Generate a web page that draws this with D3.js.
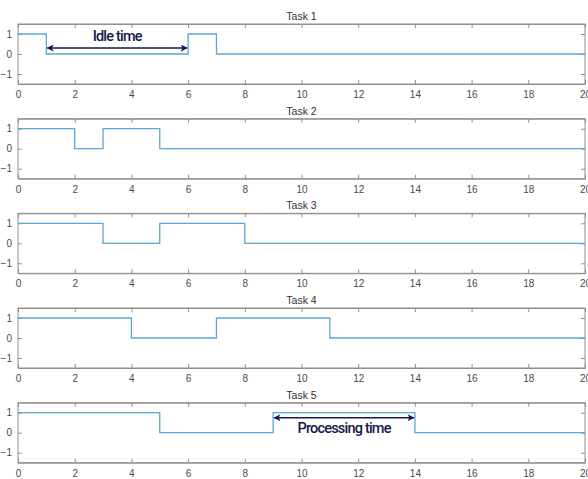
<!DOCTYPE html>
<html><head><meta charset="utf-8">
<script src="https://cdn.jsdelivr.net/npm/d3@7"></script>
<style>body{margin:0;background:#fff;} svg{display:block;}</style>
</head><body>
<script>
const taskNames = ["Task 1","Task 2","Task 3","Task 4","Task 5"];
const timeSteps = d3.range(0,21);
const task1 = [1,0,0,0,0,0,1,0,0,0,0,0,0,0,0,0,0,0,0,0,0];
const task2 = [1,1,0,1,1,0,0,0,0,0,0,0,0,0,0,0,0,0,0,0,0];
const task3 = [1,1,1,0,0,1,1,1,0,0,0,0,0,0,0,0,0,0,0,0,0];
const task4 = [1,1,1,1,0,0,0,1,1,1,1,0,0,0,0,0,0,0,0,0,0];
const task5 = [1,1,1,1,1,0,0,0,0,1,1,1,1,1,0,0,0,0,0,0,0];
const series = [task1,task2,task3,task4,task5];
const xTicks = [0,2,4,6,8,10,12,14,16,18,20];
const yTicks = [-1,0,1];
const annotations = [
  {panel:0, x0:1, x1:6, y:0.3, label:"Idle time", both:true, labelY:0.9},
  {panel:4, x0:9, x1:14, y:0.75, label:"Processing time", both:true, labelY:0.2}
];

const W=588,H=479;
const left=18,right=585,panelH=60,tops=[24,118.7,213.3,308,402.7];
const svg=d3.select("body").append("svg").attr("width",W).attr("height",H);
const defs=svg.append("defs");
defs.append("marker").attr("id","ah").attr("viewBox","0 0 10 10").attr("refX",9).attr("refY",5)
 .attr("markerWidth",7).attr("markerHeight",7).attr("markerUnits","userSpaceOnUse").attr("orient","auto-start-reverse")
 .append("path").attr("d","M0,0 L10,5 L0,10 L2.5,5 Z").attr("fill","#141a4a");

const x=d3.scaleLinear().domain([0,20]).range([left,right]);
const axisCol="#8f8f8f", txtCol="#4a4a4a";

series.forEach((vals,i)=>{
  const top=tops[i];
  const y=d3.scaleLinear().domain([-1.5,1.5]).range([top+panelH,top]);
  const g=svg.append("g");
  g.append("text").attr("x",(left+right)/2).attr("y",top-4).attr("text-anchor","middle")
   .attr("font-family","Liberation Sans, Arial, sans-serif").attr("font-size",10.5).attr("fill","#333").text(taskNames[i]);
  const bx=d3.axisBottom(x).tickValues(xTicks).tickSize(-4).tickPadding(7).tickFormat(d3.format("d"));
  const gb=g.append("g").attr("transform",`translate(0,${top+panelH})`).call(bx);
  const tx=d3.axisTop(x).tickValues(xTicks).tickSize(-4).tickFormat("");
  const gt=g.append("g").attr("transform",`translate(0,${top})`).call(tx);
  const ly=d3.axisLeft(y).tickValues(yTicks).tickSize(-4).tickPadding(6).tickFormat(d3.format("d"));
  const gl=g.append("g").attr("transform",`translate(${left},0)`).call(ly);
  const ry=d3.axisRight(y).tickValues(yTicks).tickSize(-4).tickFormat("");
  const gr=g.append("g").attr("transform",`translate(${right},0)`).call(ry);
  [gb,gt,gl,gr].forEach(a=>{
    a.selectAll(".domain").attr("stroke",axisCol);
    a.selectAll(".tick line").attr("stroke",axisCol);
    a.selectAll("text").attr("fill",txtCol).attr("font-size",10).attr("font-family","Liberation Sans, Arial, sans-serif");
  });
  gl.selectAll(".domain").remove(); gr.selectAll(".domain").remove();
  g.append("rect").attr("x",left).attr("y",top).attr("width",right-left).attr("height",panelH)
   .attr("fill","none").attr("stroke",axisCol);
  const line=d3.line().x((d,j)=>x(timeSteps[j])).y(d=>y(d)).curve(d3.curveStepAfter);
  g.append("path").datum(vals).attr("d",line).attr("fill","none").attr("stroke","#5aa6d8").attr("stroke-width",1.3);
  annotations.filter(a=>a.panel===i).forEach(a=>{
    g.append("line").attr("x1",x(a.x0)+1).attr("x2",x(a.x1)-1).attr("y1",y(a.y)).attr("y2",y(a.y))
     .attr("stroke","#141a4a").attr("stroke-width",1.6)
     .attr("marker-end","url(#ah)").attr("marker-start",a.both?"url(#ah)":null);
    g.append("text").attr("x",(x(a.x0)+x(a.x1))/2).attr("y",y(a.labelY)).attr("text-anchor","middle")
     .attr("dominant-baseline","central")
     .attr("font-family","Roboto, sans-serif").attr("font-weight",500).attr("font-size",14.5)
     .attr("letter-spacing",-0.8).attr("fill","#141a4a").text(a.label);
  });
});
</script>
</body></html>
